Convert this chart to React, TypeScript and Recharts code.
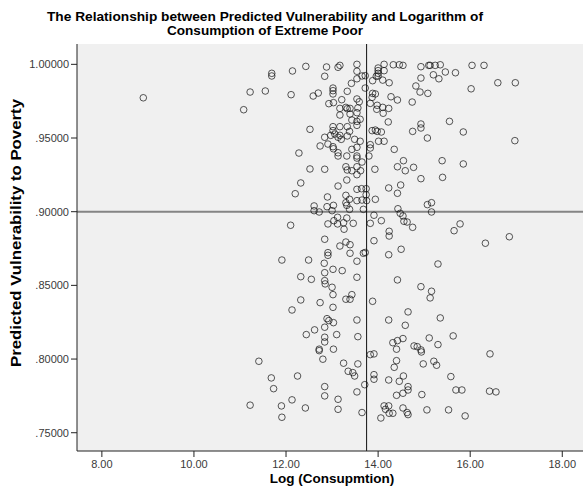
import React from "react";
import { ScatterChart, Scatter, XAxis, YAxis, CartesianGrid, ReferenceLine } from "recharts";

const TITLE_LINES = [
  "The Relationship between Predicted Vulnerability and Logarithm of",
  "Consumption of Extreme Poor",
];
const X_LABEL = "Log (Consupmtion)";
const Y_LABEL = "Predicted Vulnerability to Poverty";

const xTicks = [8, 10, 12, 14, 16, 18];
const yTicks = [0.75, 0.8, 0.85, 0.9, 0.95, 1.0];
const xDomain: [number, number] = [7.46, 18.45];
const yDomain: [number, number] = [0.7376, 1.0138];
const meanLogConsumption = 13.75;
const vulnerabilityLine = 0.9;

// [log consumption, predicted vulnerability]
const observations: [number, number][] = [
  [8.9, 0.9773], [11.22, 0.9812], [11.08, 0.9692], [11.41, 0.7985], [11.22, 0.7687],
  [11.69, 0.9939], [11.69, 0.9921], [11.55, 0.9819], [12.14, 0.9955], [12.43, 0.9986],
  [12.11, 0.9794], [12.59, 0.9785], [12.7, 0.9805], [12.88, 0.9982], [12.84, 0.9919],
  [13.13, 0.998], [13.17, 0.9993], [13.02, 0.9839], [13.02, 0.9821], [13.02, 0.9799],
  [12.93, 0.9733], [13.03, 0.974], [13.21, 0.976], [13.17, 0.9701], [13.17, 0.9656],
  [13.3, 0.9708], [13.33, 0.9699], [13.33, 0.9817], [13.42, 0.9871], [13.54, 1.0],
  [13.54, 0.9953], [13.54, 0.9902], [13.65, 0.9921], [13.72, 0.9923], [13.72, 0.9839],
  [13.54, 0.9765], [13.59, 0.9746], [13.39, 0.9701], [13.39, 0.9663], [13.54, 0.9672],
  [13.56, 0.9704], [13.43, 0.9622], [13.54, 0.9613], [13.61, 0.9627],
  [14.0, 0.9975], [14.0, 0.9957], [14.0, 0.9939], [14.0, 0.9921], [14.13, 1.0],
  [14.13, 0.9957], [14.33, 0.9997], [14.46, 0.9997], [13.88, 0.9889], [13.96, 0.9919],
  [14.1, 0.9893], [14.24, 0.9875], [13.88, 0.9803], [13.94, 0.9799], [13.87, 0.9776],
  [13.83, 0.9735], [14.28, 0.978], [14.42, 0.9758], [13.98, 0.9722], [14.1, 0.9708],
  [13.97, 0.9695], [14.11, 0.9668], [14.23, 0.9701], [14.22, 0.9609],
  [12.52, 0.9559], [12.28, 0.9398], [12.52, 0.929], [12.84, 0.9288], [12.32, 0.9195],
  [12.2, 0.9122], [12.9, 0.91], [13.02, 0.9577], [13.02, 0.955], [13.17, 0.9577],
  [13.33, 0.9577], [13.54, 0.9586], [12.84, 0.9505], [12.97, 0.9518], [13.06, 0.9527],
  [13.13, 0.9505], [13.17, 0.9518], [13.2, 0.9491], [13.33, 0.9514], [13.38, 0.9545],
  [12.74, 0.9446], [12.91, 0.9459], [13.02, 0.9441], [13.03, 0.9427], [13.13, 0.94],
  [13.13, 0.9378], [13.32, 0.9378], [13.49, 0.9491], [13.61, 0.9478], [13.54, 0.9437],
  [13.43, 0.9423], [13.54, 0.9378], [13.54, 0.9364], [13.65, 0.9337], [13.3, 0.9305],
  [13.33, 0.9283], [13.43, 0.9278], [13.54, 0.9305], [13.54, 0.9251], [13.62, 0.9278],
  [13.13, 0.9174], [13.32, 0.9215], [13.54, 0.9152], [13.64, 0.9156], [13.74, 0.9156],
  [13.74, 0.9115], [13.75, 0.9075], [13.3, 0.9111], [13.38, 0.9084], [13.3, 0.9061],
  [13.54, 0.9075], [13.65, 0.9079],
  [13.87, 0.955], [13.94, 0.9554], [13.98, 0.9545], [14.07, 0.9541], [14.01, 0.9478],
  [14.13, 0.9478], [13.83, 0.9455], [13.83, 0.9432], [13.8, 0.9378], [14.35, 0.9423],
  [13.93, 0.9288], [14.42, 0.9305], [14.23, 0.9161], [14.42, 0.9125], [13.94, 0.9084],
  [12.61, 0.9039], [12.61, 0.9007], [12.72, 0.8998], [12.89, 0.9034], [13.0, 0.9007],
  [13.03, 0.9043], [13.32, 0.9043], [13.38, 0.9016], [13.68, 0.9016], [12.1, 0.8908],
  [12.91, 0.8917], [13.04, 0.8939], [13.12, 0.8962], [13.12, 0.8917], [13.25, 0.8925],
  [13.32, 0.8957], [13.46, 0.8921], [13.26, 0.8881], [12.84, 0.8813], [13.17, 0.8767],
  [13.3, 0.8794], [13.39, 0.8776], [12.91, 0.8722], [12.91, 0.8704], [13.39, 0.8718],
  [13.68, 0.8718], [13.72, 0.8723], [11.91, 0.8672], [12.49, 0.8672], [12.83, 0.865],
  [13.54, 0.8664], [13.02, 0.8609], [13.22, 0.86], [12.84, 0.8586], [12.32, 0.8559],
  [12.55, 0.8541], [12.84, 0.8532], [12.85, 0.851], [13.54, 0.8555],
  [13.91, 0.8976], [14.07, 0.8939], [13.83, 0.8921], [13.91, 0.8803], [14.24, 0.8867],
  [14.24, 0.8835], [14.23, 0.8708], [14.43, 0.902], [14.48, 0.8989], [14.42, 0.8537],
  [13.0, 0.8487], [13.02, 0.8437], [13.02, 0.8351], [12.32, 0.8401], [12.13, 0.8333],
  [12.74, 0.8383], [13.3, 0.8406], [13.39, 0.8406], [13.43, 0.8437], [12.89, 0.8274],
  [12.93, 0.8261], [13.03, 0.8247], [12.84, 0.8216], [13.54, 0.8265], [12.62, 0.8198],
  [12.44, 0.8166], [13.1, 0.8166], [12.84, 0.8148], [12.84, 0.8116], [13.56, 0.8152],
  [12.72, 0.8067], [12.72, 0.8057], [13.03, 0.8067], [12.8, 0.7999], [13.25, 0.7972],
  [13.56, 0.7967],
  [13.88, 0.8392], [14.23, 0.8265], [13.83, 0.803], [13.91, 0.8035], [14.32, 0.8111],
  [14.42, 0.8125], [14.4, 0.8067], [14.4, 0.7989],
  [11.68, 0.7872], [11.73, 0.7799], [12.25, 0.7885], [12.84, 0.7813], [12.84, 0.775],
  [12.13, 0.7723], [11.9, 0.7682], [11.91, 0.7605], [12.42, 0.7668], [13.13, 0.7727],
  [13.13, 0.7659], [13.65, 0.7637], [13.35, 0.7917], [13.45, 0.7908], [13.49, 0.7885],
  [13.54, 0.7777], [13.71, 0.7826],
  [13.91, 0.7894], [13.91, 0.7863], [14.23, 0.7858], [14.46, 0.7849], [14.35, 0.7944],
  [14.4, 0.7754], [14.13, 0.7682], [14.23, 0.7682], [14.16, 0.7659], [14.24, 0.7632],
  [14.32, 0.7632], [14.06, 0.76],
  [14.54, 0.9993], [14.74, 0.9744], [14.82, 0.9853], [14.91, 0.9812], [15.08, 0.9803],
  [14.93, 0.9984], [15.1, 0.9993], [15.13, 0.9993], [15.24, 0.9993], [15.35, 0.9997],
  [15.2, 0.9929], [14.93, 0.9907], [15.32, 0.9902], [15.46, 0.9948], [15.68, 0.9943],
  [16.04, 0.9993], [16.3, 0.9993], [16.02, 0.9834], [16.6, 0.9875], [16.98, 0.9875],
  [14.75, 0.9545], [14.93, 0.9595], [14.93, 0.9568], [15.07, 0.95], [15.55, 0.9613],
  [15.85, 0.9541], [16.97, 0.9482], [14.55, 0.9346], [14.59, 0.9278], [14.77, 0.9301],
  [14.93, 0.9224], [15.4, 0.9233], [15.39, 0.9346], [15.85, 0.9324], [14.49, 0.9181],
  [15.07, 0.9048], [15.16, 0.9061], [15.16, 0.8998], [14.54, 0.8971], [14.56, 0.8935],
  [14.63, 0.893], [14.75, 0.8894], [15.78, 0.8917], [15.65, 0.8871], [16.85, 0.883],
  [16.33, 0.8786], [14.5, 0.8745], [15.3, 0.8645], [14.93, 0.8491], [15.16, 0.846],
  [15.13, 0.8415], [14.65, 0.832], [14.59, 0.8229], [15.35, 0.8279], [15.63, 0.8157],
  [14.54, 0.8139], [14.78, 0.8089], [14.85, 0.8084], [14.93, 0.8062], [14.94, 0.8048],
  [15.11, 0.8143], [15.3, 0.8098], [14.98, 0.7967], [15.21, 0.7985], [15.27, 0.7958],
  [16.43, 0.8035], [14.55, 0.7885], [15.58, 0.7881], [14.65, 0.7813], [14.65, 0.779],
  [14.54, 0.7768], [14.95, 0.7759], [15.69, 0.779], [15.82, 0.779], [16.42, 0.7782],
  [16.56, 0.7777], [14.54, 0.7668], [14.63, 0.7637], [14.65, 0.7623], [15.06, 0.7655],
  [15.53, 0.7655], [15.89, 0.7614],
];

const FONT = '"Liberation Sans", Arial, sans-serif';

const Ring = (props: any) => {
  const { cx, cy } = props;
  if (cx == null || cy == null) return <g />;
  return (
    <circle cx={cx} cy={cy} r={3.3} fill="none" stroke="#111" strokeOpacity={0.7} strokeWidth={1} />
  );
};

const fmtY = (v: number) => (v >= 1 ? v.toFixed(5) : v.toFixed(5).replace(/^0/, ""));
const fmtX = (v: number) => v.toFixed(2);

export default function App() {
  const data = observations.map(([x, y]) => ({ x, y }));
  return (
    <div
      style={{
        position: "absolute",
        left: 0,
        top: 0,
        width: 586,
        height: 496,
        background: "#fff",
        fontFamily: FONT,
      }}
    >
      <ScatterChart width={586} height={496} margin={{ top: 44, right: 3, bottom: 0, left: 0 }}>
        <CartesianGrid horizontal={false} vertical={false} fill="#f0f0f0" />
        <XAxis
          type="number"
          dataKey="x"
          domain={xDomain}
          ticks={xTicks}
          allowDataOverflow
          tickFormatter={fmtX}
          height={45}
          stroke="#222"
          tickSize={6}
          tickMargin={3}
          tick={{ fill: "#3a3a3a", fontSize: 11, fontFamily: FONT }}
        />
        <XAxis
          xAxisId="top"
          orientation="top"
          type="number"
          domain={xDomain}
          allowDataOverflow
          height={0}
          tick={false}
          tickLine={false}
          stroke="#222"
        />
        <YAxis
          type="number"
          dataKey="y"
          domain={yDomain}
          ticks={yTicks}
          allowDataOverflow
          tickFormatter={fmtY}
          width={77}
          stroke="#222"
          tickSize={6}
          tickMargin={2}
          tick={{ fill: "#3a3a3a", fontSize: 11, fontFamily: FONT }}
        />
        <YAxis
          yAxisId="right"
          orientation="right"
          type="number"
          domain={yDomain}
          allowDataOverflow
          width={0}
          tick={false}
          tickLine={false}
          stroke="#222"
        />
        <ReferenceLine y={vulnerabilityLine} stroke="#858585" strokeWidth={2} />
        <ReferenceLine x={meanLogConsumption} stroke="#111" strokeWidth={1} />
        <Scatter data={data} isAnimationActive={false} shape={Ring} />
      </ScatterChart>
      <svg
        width={586}
        height={496}
        style={{ position: "absolute", left: 0, top: 0, pointerEvents: "none" }}
      >
        <g fontFamily={FONT} fontWeight="bold" fill="#000" textAnchor="middle">
          <text x={265} y={21} fontSize={12.6} textLength={436} lengthAdjust="spacingAndGlyphs">
            {TITLE_LINES[0]}
          </text>
          <text x={265} y={35} fontSize={12.6} textLength={196} lengthAdjust="spacingAndGlyphs">
            {TITLE_LINES[1]}
          </text>
          <text x={332} y={483} fontSize={13.5}>{X_LABEL}</text>
          <text
            transform="translate(21,233) rotate(-90)"
            fontSize={15.5}
            textLength={268}
            lengthAdjust="spacingAndGlyphs"
          >
            {Y_LABEL}
          </text>
        </g>
      </svg>
    </div>
  );
}
